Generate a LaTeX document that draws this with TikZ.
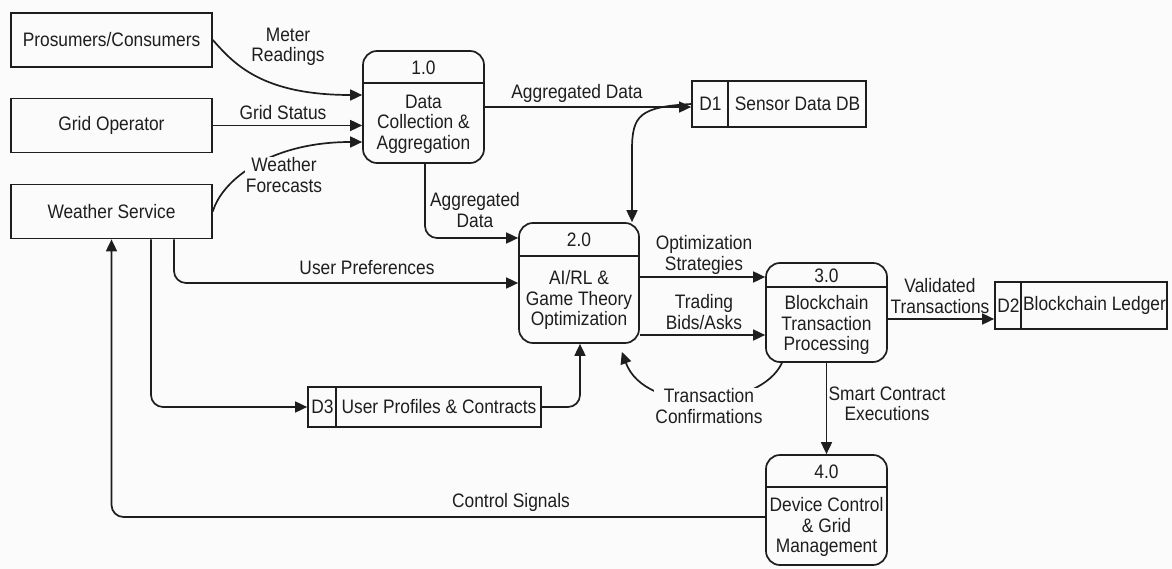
\documentclass[tikz,border=0pt]{standalone}
\usepackage{fontspec}
\setmainfont{Liberation Sans}[FakeStretch=0.89]
\usetikzlibrary{arrows.meta,calc}
\definecolor{ink}{HTML}{1E1E1E}
\definecolor{paper}{HTML}{FBFBFB}
\tikzset{
  every node/.style={font=\fontsize{19.5}{20.5}\selectfont, text=ink},
  ent/.style={draw=ink, line width=1.7pt, minimum width=201pt, minimum height=54pt, inner sep=0pt},
  proc/.style={draw=ink, line width=1.7pt, rounded corners=14pt, inner sep=0pt},
  store/.style={draw=ink, line width=1.7pt, inner sep=0pt},
  sep/.style={draw=ink, line width=1.7pt},
  lbl/.style={align=center, inner sep=1pt},
  flow/.style={draw=ink, line width=1.7pt, rounded corners=12pt, -{Triangle[length=12pt,width=11pt]}},
}
\begin{document}
\begin{tikzpicture}[x=1pt,y=-1pt]
\fill[paper] (0,0) rectangle (1172,569);

% external entities
\node[ent] (cons) at (111.5,40) {Prosumers/Consumers};
\node[ent] (grid) at (111.5,125.5) {Grid Operator};
\node[ent] (wx)   at (111.5,211.5) {Weather Service};

% processes
\node[proc, minimum width=121pt, minimum height=112pt] (p1) at (423.5,107) {};
\draw[sep] ([yshift=-33pt]p1.north west) -- ([yshift=-33pt]p1.north east);
\node (p1n) at (423.5,67.5) {1.0};
\node[lbl] (p1t) at (423.5,124) {Data\\Collection \&\\Aggregation};

\node[proc, minimum width=120pt, minimum height=120pt] (p2) at (579,283) {};
\draw[sep] ([yshift=-34pt]p2.north west) -- ([yshift=-34pt]p2.north east);
\node (p2n) at (579,240) {2.0};
\node[lbl] (p2t) at (579,300) {AI/RL \&\\Game Theory\\Optimization};

\node[proc, minimum width=121pt, minimum height=99pt] (p3) at (826.5,312.5) {};
\draw[sep] ([yshift=-25pt]p3.north west) -- ([yshift=-25pt]p3.north east);
\node (p3n) at (826.5,276) {3.0};
\node[lbl] (p3t) at (826.5,325) {Blockchain\\Transaction\\Processing};

\node[proc, minimum width=121pt, minimum height=110pt] (p4) at (826.5,510) {};
\draw[sep] ([yshift=-33pt]p4.north west) -- ([yshift=-33pt]p4.north east);
\node (p4n) at (826.5,472) {4.0};
\node[lbl] (p4t) at (826.5,527) {Device Control\\\& Grid\\Management};

% data stores
\node[store, minimum width=174pt, minimum height=46pt] (d1) at (779,104) {};
\draw[sep] ([xshift=37pt]d1.north west) -- ([xshift=37pt]d1.south west);
\node (d1n) at (710.5,104) {D1};
\node (d1t) at (797.5,104) {Sensor Data DB};

\node[store, minimum width=172pt, minimum height=47pt] (d2) at (1081,305.5) {};
\draw[sep] ([xshift=27pt]d2.north west) -- ([xshift=27pt]d2.south west);
\node (d2n) at (1008.5,305.5) {D2};
\node (d2t) at (1094.5,305.5) {Blockchain Ledger};

\node[store, minimum width=233pt, minimum height=40pt] (d3) at (424.5,407) {};
\draw[sep] ([xshift=29pt]d3.north west) -- ([xshift=29pt]d3.south west);
\node (d3n) at (322.5,407) {D3};
\node (d3t) at (439,407) {User Profiles \& Contracts};

% flows into 1.0
\draw[flow] (cons.east) .. controls (234,64) and (262,95) .. ([yshift=12pt]p1.west);
\draw[flow] (grid.east) -- (grid.east -| p1.west);
\draw[flow] (wx.east) .. controls (222,180) and (270,142) .. ([yshift=-35pt]p1.west);

% 1.0 outputs
\draw[flow] (p1.east) -- (p1.east -| d1.west);
\draw[flow] ([xshift=1.5pt]p1.south) |- ([yshift=45pt]p2.west);
\draw[flow, rounded corners=0pt] (d1.west) .. controls (640,107) and (632,115) .. (632,150) -- ([xshift=53pt]p2.north);

% weather service outputs
\draw[flow] ([xshift=62.5pt]wx.south) |- (p2.west);
\draw[flow] ([xshift=39.5pt]wx.south) |- (d3.west);
\draw[flow] (d3.east) -| ([xshift=1pt]p2.south);

% 2.0 and 3.0
\draw[flow] ([yshift=6pt]p2.east) -- ([yshift=6pt]p2.east -| p3.west);
\draw[flow] ([yshift=-52pt]p2.east) -- ([yshift=-52pt]p2.east -| p3.west);
\draw[flow] ([yshift=-6.5pt]p3.east) -- ([yshift=-6.5pt]p3.east -| d2.west);
\draw[flow, rounded corners=0pt] ([xshift=-44.5pt]p3.south) .. controls (760,410) and (645,415) .. ([xshift=-18pt,yshift=-8pt]p2.south east);
\draw[flow] (p3.south) -- (p4.north);
\draw[flow] ([yshift=-7pt]p4.west) -| (wx.south);

% flow labels
\node[lbl] (lmr) at (288,47) {Meter\\Readings};
\node[lbl] (lgs) at (283,113) {Grid Status};
\node[lbl, fill=paper] (lwf) at (284,175) {Weather\\Forecasts};
\node[lbl] (lad1) at (577,93) {Aggregated Data};
\node[lbl] (lad2) at (475,210) {Aggregated\\Data};
\node[lbl] (lup) at (367,268) {User Preferences};
\node[lbl] (los) at (704,255) {Optimization\\Strategies};
\node[lbl] (ltb) at (704,312) {Trading\\Bids/Asks};
\node[lbl] (lvt) at (940,296) {Validated\\Transactions};
\node[lbl, fill=paper] (ltc) at (709,406) {Transaction\\Confirmations};
\node[lbl] (lsc) at (887,404) {Smart Contract\\Executions};
\node[lbl] (lcs) at (511,502) {Control Signals};
\end{tikzpicture}
\end{document}
